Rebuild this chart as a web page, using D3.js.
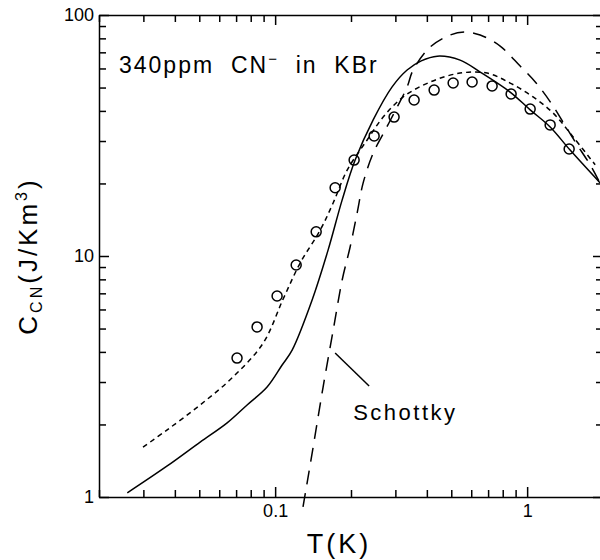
<!DOCTYPE html>
<html>
<head>
<meta charset="utf-8">
<script src="https://cdn.jsdelivr.net/npm/d3@7"></script>
<style>
  body { margin: 0; background: #fff; }
  svg { display: block; }
  text { font-family: "Liberation Sans", Arial, sans-serif; fill: #000; white-space: pre; }
</style>
</head>
<body>
<svg></svg>
<script>
const width = 600;
const height = 560;
const margin = ({top: 15, right: -3, bottom: 63, left: 99});

// measured points (open circles)
const dataT = [0.0706, 0.0848, 0.1018, 0.1212, 0.1455, 0.173, 0.2058, 0.2471, 0.2965,
    0.356, 0.4275, 0.5086, 0.6048, 0.7262, 0.8639, 1.028, 1.234, 1.468];
const dataC = [3.77, 5.08, 6.82, 9.18, 12.6, 19.2, 25.0, 31.5, 37.7,
    44.4, 48.8, 52.2, 52.7, 50.8, 47.0, 40.7, 35.0, 27.8];

// solid curve
const solidT = [0.0259, 0.0373, 0.0504, 0.0645, 0.0774, 0.0929, 0.1066, 0.1168, 0.1402,
    0.1623, 0.1845, 0.2077, 0.2449, 0.2912, 0.334, 0.38, 0.44, 0.542, 0.651, 0.8559,
    1.028, 1.234, 1.481, 1.948];
const solidC = [1.04, 1.345, 1.69, 2.03, 2.41, 2.86, 3.53, 4.07, 6.57,
    10.6, 17.1, 25.0, 36.7, 50.3, 59.1, 64.5, 67.5, 65.0, 58.0, 47.9,
    40.4, 34.3, 27.5, 20.1];

// short-dashed curve
const dotT = [0.0299, 0.0373, 0.0504, 0.0681, 0.0896, 0.1076, 0.1257, 0.1509, 0.1699,
    0.1931, 0.2318, 0.2683, 0.3221, 0.412, 0.542, 0.694, 0.856, 1.056, 1.268, 1.522, 1.862];
const dotC = [1.61, 1.90, 2.41, 3.15, 4.35, 6.63, 9.35, 12.8, 16.6,
    22.7, 30.3, 37.7, 45.7, 52.7, 57.4, 57.4, 52.2, 45.7, 39.2, 31.2, 23.9];

// Schottky curve (long dashes)
const schT = [0.129, 0.1415, 0.155, 0.170, 0.1845, 0.1984, 0.2116, 0.2235, 0.2449, 0.2733,
    0.305, 0.334, 0.3528, 0.412, 0.4948, 0.5675, 0.651, 0.7815, 0.938, 1.0857,
    1.245, 1.403, 1.563, 1.778, 1.95];
const schC = [0.909, 1.61, 2.86, 4.93, 7.95, 10.9, 15.1, 20.1, 26.7, 33.3,
    41.5, 50.3, 59.1, 73.6, 82.6, 85.0, 82.6, 74.3, 61.4, 52.2,
    43.1, 35.3, 29.4, 23.9, 20.0];

const xMajor = [0.1, 1];
const yMajor = [1, 10, 100];

const x = d3.scaleLog()
    .domain([0.02, 2])
    .range([margin.left, width - margin.right]);

const y = d3.scaleLog()
    .domain([1, 100])
    .range([height - margin.bottom, margin.top]);

const xMinor = x.ticks().filter(d => !xMajor.some(m => Math.abs(m - d) < 1e-9));
const yMinor = y.ticks().filter(d => !yMajor.some(m => Math.abs(m - d) < 1e-9));

const svg = d3.select("svg")
    .attr("width", width)
    .attr("height", height)
    .attr("viewBox", [0, 0, width, height]);

const fmt = d => d < 1 ? String(d) : d3.format("d")(d);

function styleAxis(g) {
    g.selectAll("path, line").attr("stroke", "#000").attr("stroke-width", 1.5);
    g.selectAll("text").attr("fill", "#000").style("font-size", "18px")
        .attr("font-family", null);
}

// bottom
svg.append("g")
    .attr("transform", `translate(0,${height - margin.bottom})`)
    .call(d3.axisBottom(x).tickValues(xMajor).tickFormat(fmt)
        .tickSizeInner(-10).tickSizeOuter(0).tickPadding(7))
    .call(styleAxis);
svg.append("g")
    .attr("transform", `translate(0,${height - margin.bottom})`)
    .call(d3.axisBottom(x).tickValues(xMinor).tickFormat("")
        .tickSizeInner(-7).tickSizeOuter(0))
    .call(g => g.select(".domain").remove())
    .call(styleAxis);

// top
svg.append("g")
    .attr("transform", `translate(0,${margin.top})`)
    .call(d3.axisTop(x).tickValues(xMajor).tickFormat("")
        .tickSizeInner(-10).tickSizeOuter(0))
    .call(styleAxis);
svg.append("g")
    .attr("transform", `translate(0,${margin.top})`)
    .call(d3.axisTop(x).tickValues(xMinor).tickFormat("")
        .tickSizeInner(-7).tickSizeOuter(0))
    .call(g => g.select(".domain").remove())
    .call(styleAxis);

// left
svg.append("g")
    .attr("transform", `translate(${margin.left},0)`)
    .call(d3.axisLeft(y).tickValues(yMajor).tickFormat(fmt)
        .tickSizeInner(-10).tickSizeOuter(0).tickPadding(5))
    .call(styleAxis);
svg.append("g")
    .attr("transform", `translate(${margin.left},0)`)
    .call(d3.axisLeft(y).tickValues(yMinor).tickFormat("")
        .tickSizeInner(-7).tickSizeOuter(0))
    .call(g => g.select(".domain").remove())
    .call(styleAxis);

// right
svg.append("g")
    .attr("transform", `translate(${width - margin.right},0)`)
    .call(d3.axisRight(y).tickValues(yMajor).tickFormat("")
        .tickSizeInner(-10).tickSizeOuter(0))
    .call(styleAxis);
svg.append("g")
    .attr("transform", `translate(${width - margin.right},0)`)
    .call(d3.axisRight(y).tickValues(yMinor).tickFormat("")
        .tickSizeInner(-7).tickSizeOuter(0))
    .call(g => g.select(".domain").remove())
    .call(styleAxis);

// curves
const line = d3.line()
    .x(d => x(d[0]))
    .y(d => y(d[1]))
    .curve(d3.curveCatmullRom.alpha(0.5));

const curves = [
    {t: solidT, c: solidC, dash: null},
    {t: dotT, c: dotC, dash: "5,4"},
    {t: schT, c: schC, dash: "14,9"}
];

svg.append("g")
    .selectAll("path")
    .data(curves)
    .join("path")
    .attr("d", d => line(d3.zip(d.t, d.c)))
    .attr("fill", "none")
    .attr("stroke", "#000")
    .attr("stroke-width", 1.5)
    .attr("stroke-dasharray", d => d.dash);

svg.append("g")
    .selectAll("circle")
    .data(d3.zip(dataT, dataC))
    .join("circle")
    .attr("cx", d => x(d[0]))
    .attr("cy", d => y(d[1]))
    .attr("r", 5)
    .attr("fill", "none")
    .attr("stroke", "#000")
    .attr("stroke-width", 1.5);

// Schottky label + leader
svg.append("line")
    .attr("x1", x(0.173)).attr("y1", y(3.96))
    .attr("x2", x(0.236)).attr("y2", y(2.89))
    .attr("stroke", "#000")
    .attr("stroke-width", 1.5);

svg.append("text")
    .attr("x", x(0.204))
    .attr("y", y(2.08))
    .style("font-size", "22px")
    .style("letter-spacing", "2.5px")
    .text("Schottky");

// sample label
const lab = svg.append("text")
    .attr("x", 119)
    .attr("y", 73)
    .style("font-size", "23px")
    .style("letter-spacing", "2px");
lab.append("tspan").text("340ppm  CN");
lab.append("tspan").attr("dy", -9).style("font-size", "15px").text("\u2212");
lab.append("tspan").attr("dy", 9).text("  in  KBr");

// axis titles
svg.append("text")
    .attr("x", 339)
    .attr("y", 553)
    .attr("text-anchor", "middle")
    .style("font-size", "27px")
    .style("letter-spacing", "3px")
    .text("T(K)");

const yl = svg.append("text")
    .attr("transform", `translate(37,${(margin.top + height - margin.bottom) / 2}) rotate(-90)`)
    .attr("text-anchor", "middle")
    .style("font-size", "26px")
    .style("letter-spacing", "3px");
yl.append("tspan").text("C");
yl.append("tspan").attr("dy", 5).style("font-size", "16px").text("CN");
yl.append("tspan").attr("dy", -5).text("(J/Km");
yl.append("tspan").attr("dy", -10).style("font-size", "16px").text("3");
yl.append("tspan").attr("dy", 10).text(")");
</script>
</body>
</html>
